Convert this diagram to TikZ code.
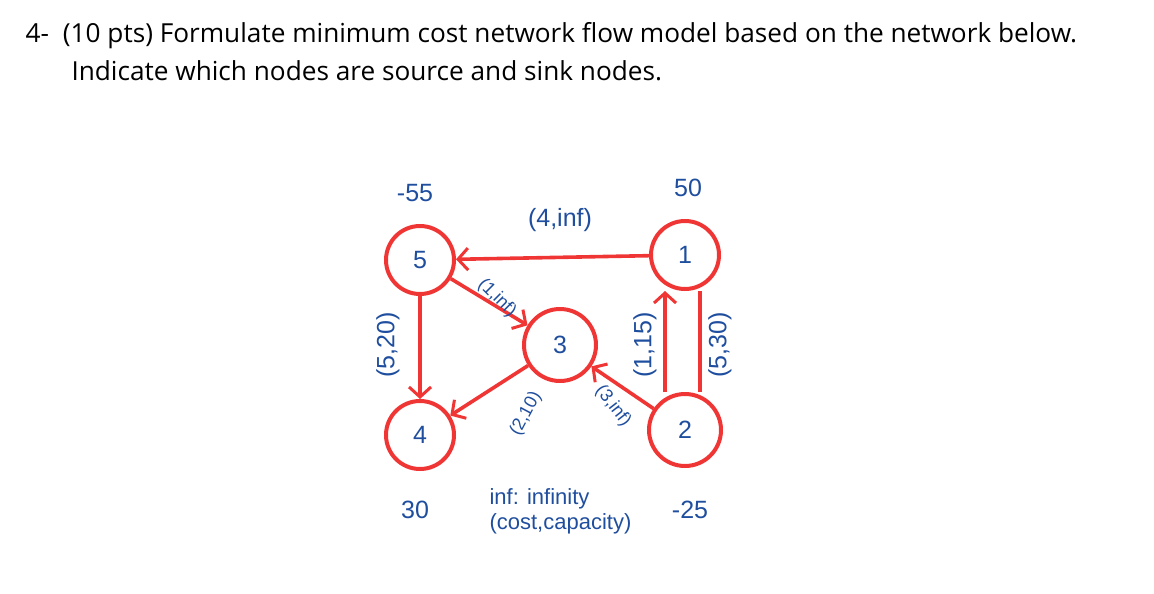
\documentclass[tikz,border=0pt]{standalone}
\usepackage{fontspec}
\setmainfont{Liberation Sans}
\newfontfamily\titlefont{Open Sans}
\usetikzlibrary{arrows.meta}
\definecolor{nred}{HTML}{F03535}
\definecolor{nblue}{HTML}{1F4E9E}
\begin{document}
\begin{tikzpicture}[x=1pt,y=-1pt,
  nd/.style={circle,draw=nred,line width=4pt,minimum size=68pt,inner sep=0pt,text=nblue,font=\fontsize{25}{25}\selectfont},
  ed/.style={draw=nred,line width=3.6pt,-{Straight Barb[length=10pt,width=22pt,line width=3pt]}},
  lb/.style={text=nblue,font=\fontsize{25}{27}\selectfont},
  sl/.style={text=nblue,font=\fontsize{18}{20}\selectfont}]
\useasboundingbox (0,0) rectangle (1154,594);
\node[anchor=west,font=\titlefont\fontsize{26.2}{38}\selectfont,align=left] (title) at (22,52)
 {4-\hspace{14pt}(10 pts) Formulate minimum cost network flow model based on the network below.\\
 \hspace{46pt}Indicate which nodes are source and sink nodes.};
\node[nd] (n5) at (420,260) {5};
\node[nd] (n1) at (685,255) {1};
\node[nd,minimum size=72pt] (n3) at (560,345) {3};
\node[nd] (n4) at (420,435) {4};
\node[nd,minimum size=72pt] (n2) at (685,430) {2};
\draw[ed] (n1) -- (n5);
\draw[ed] (n5) -- (n3);
\draw[ed] (n5) -- (n4);
\draw[ed] (n3) -- (n4);
\draw[ed] (n2) -- (n3);
\draw[ed] ([xshift=-20pt]n2.north) -- ([xshift=-20pt]n1.south);
\draw[draw=nred,line width=3.6pt] ([xshift=15pt]n2.north) -- ([xshift=15pt]n1.south);
\node[lb] (d5) at (415,193) {-55};
\node[lb] (d1) at (688,188) {50};
\node[lb] (d4) at (415,510) {30};
\node[lb] (d2) at (690,510) {-25};
\node[lb] (e15) at (560,220) {(4,inf)};
\node[sl,rotate=-45] (e53) at (497,298) {(1,inf)};
\node[lb,rotate=90] (e54) at (388,345) {(5,20)};
\node[sl,rotate=62] (e34) at (526,414) {(2,10)};
\node[sl,rotate=-52] (e23) at (613,406) {(3,inf)};
\node[lb,rotate=90] (e21) at (645,345) {(1,15)};
\node[lb,rotate=90] (e21b) at (720,345) {(5,30)};
\node[lb,align=left,anchor=north west,font=\fontsize{22}{25}\selectfont] (leg) at (486,485) {inf: infinity\\(cost,capacity)};
\end{tikzpicture}
\end{document}
